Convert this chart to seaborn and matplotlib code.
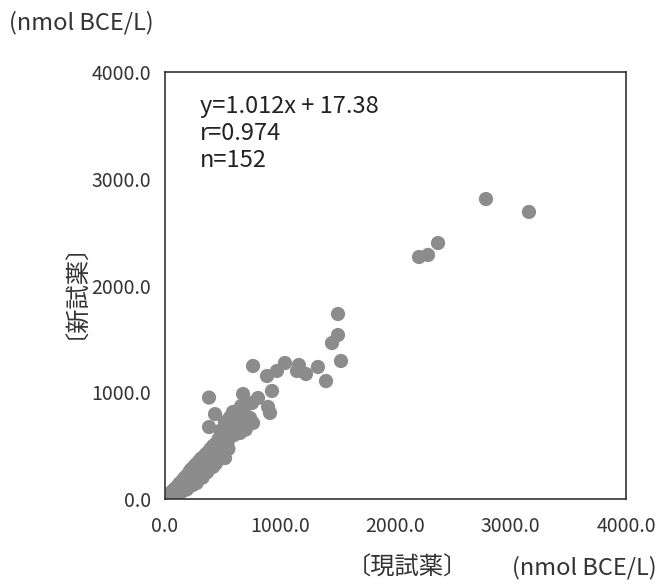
import matplotlib
matplotlib.use('Agg')
import matplotlib.pyplot as plt
import pandas as pd
import seaborn as sns

# current reagent (x) vs new reagent (y), nmol BCE/L
x_vals = [10, 20, 25, 30, 35, 40, 45, 50, 55, 60,
          65, 70, 75, 80, 85, 90, 95, 100, 105, 110,
          115, 120, 125, 130, 135, 140, 145, 150, 155, 160,
          165, 170, 175, 180, 185, 190, 195, 200, 205, 210,
          215, 220, 225, 230, 235, 240, 245, 250, 255, 260,
          265, 270, 275, 280, 285, 290, 295, 300, 305, 310,
          315, 320, 325, 330, 340, 345, 350, 355, 360, 365,
          370, 375, 380, 390, 395, 400, 405, 410, 420, 425,
          430, 440, 445, 450, 460, 465, 470, 480, 485, 490,
          500, 505, 510, 520, 530, 535, 545, 555, 560, 570,
          580, 590, 600, 610, 620, 640, 660,
          620, 680, 700, 560, 650, 690, 520, 480, 600, 550, 640,
          2785, 3158, 2369, 2282, 2204,
          1501, 1501, 1449, 1527,
          764, 885, 971, 1041, 1162, 1145, 1223, 1327, 1397,
          382, 677, 928, 755, 807, 894, 911, 434, 590, 711, 764, 382, 738, 651, 521, 416]
y_vals = [15, 10, 30, 20, 45, 25, 55, 35, 20, 60,
          45, 80, 40, 65, 95, 55, 75, 110, 40, 85,
          130, 70, 100, 150, 60, 120, 90, 170, 130, 80,
          190, 150, 110, 210, 170, 90, 140, 230, 190, 120,
          260, 210, 160, 280, 240, 130, 200, 300, 260, 180,
          320, 240, 150, 290, 340, 210, 270, 360, 320, 240,
          380, 290, 200, 340, 400, 270, 320, 420, 360, 250,
          300, 440, 390, 330, 470, 420, 300, 360, 500, 450,
          390, 330, 520, 470, 420, 560, 500, 380, 590, 540,
          460, 620, 570, 500, 650, 600, 540, 680, 630, 720,
          660, 760, 700, 740, 790, 830, 870,
          680, 720, 650, 760, 780, 860, 720, 640, 600, 470, 720,
          2810, 2689, 2398, 2286, 2267,
          1733, 1536, 1461, 1293,
          1246, 1152, 1199, 1274, 1255, 1199, 1171, 1237, 1105,
          950, 983, 1012, 899, 946, 862, 806, 795, 815, 768, 712, 674, 759, 618, 384, 300]

tick_vals = [0, 1000, 2000, 3000, 4000]
tick_labels = ['0.0', '1000.0', '2000.0', '3000.0', '4000.0']
stats_text = 'y=1.012x + 17.38\nr=0.974\nn=152'

df = pd.DataFrame({'current': x_vals, 'new': y_vals})

sns.set_style('white')
plt.rcParams['font.family'] = ['Noto Sans CJK JP', 'DejaVu Sans']

fig = plt.figure(figsize=(6.64, 5.85), dpi=100)
ax = fig.add_axes([165 / 664, 1 - 499 / 585, 461 / 664, 427 / 585])

sns.scatterplot(data=df, x='current', y='new', ax=ax, s=105,
                color='#8c8c8c', edgecolor='none', alpha=1, legend=False)

ax.set_xlim(0, 4000)
ax.set_ylim(0, 4000)
ax.set_xticks(tick_vals)
ax.set_xticklabels(tick_labels)
ax.set_yticks(tick_vals)
ax.set_yticklabels(tick_labels)
ax.tick_params(axis='both', length=0, labelsize=14, labelcolor='#333333')
ax.tick_params(axis='x', pad=12)
ax.tick_params(axis='y', pad=10)
ax.set_xlabel('')
ax.set_ylabel('')
for sp in ax.spines.values():
    sp.set_color('#333333')
    sp.set_linewidth(1.2)

ax.text(0.075, 0.945, stats_text, transform=ax.transAxes, fontsize=17,
        color='#222222', va='top', ha='left', linespacing=1.2)

# axis titles
fig.text(81 / 664, 1 - 23 / 585, '(nmol BCE/L)', fontsize=17,
         color='#333333', ha='center', va='center')
fig.text(63 / 664, 1 - 278 / 585, '〔新試薬〕', fontsize=17.5, rotation=90,
         color='#333333', ha='center', va='center')
fig.text(407 / 664, 1 - 568 / 585, '〔現試薬〕', fontsize=17.5,
         color='#333333', ha='center', va='center')
fig.text(584 / 664, 1 - 568 / 585, '(nmol BCE/L)', fontsize=17,
         color='#333333', ha='center', va='center')

fig.savefig('out.png', dpi=100)
